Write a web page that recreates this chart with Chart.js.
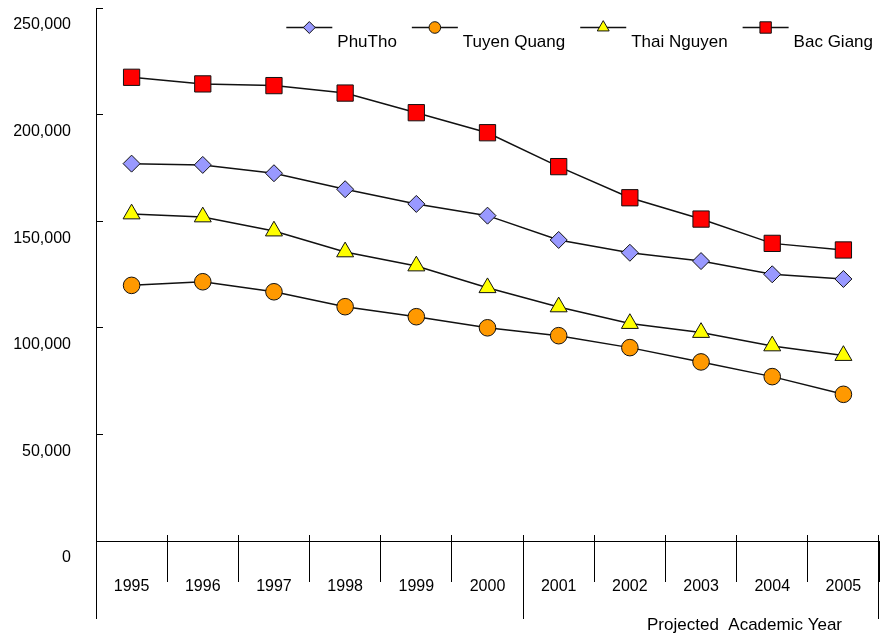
<!DOCTYPE html>
<html>
<head>
<meta charset="utf-8">
<script src="https://cdn.jsdelivr.net/npm/chart.js@4/dist/chart.umd.min.js"></script>
<style>
  html, body { margin: 0; padding: 0; background: #fff; }
  #wrap { width: 880px; height: 639px; }
</style>
</head>
<body>
<div id="wrap"><canvas id="c" width="880" height="639"></canvas></div>
<script>
const years = ['1995','1996','1997','1998','1999','2000','2001','2002','2003','2004','2005'];
const phuTho     = [177000, 176400, 172500, 165000, 158100, 152600, 141200, 135200, 131300, 125100, 122900];
const tuyenQuang = [119900, 121600, 116900, 109900, 105200, 100000,  96300,  90700,  84000,  77100,  68800];
const thaiNguyen = [153400, 152000, 145400, 135600, 129000, 118800, 109800, 102000,  97800,  91500,  87000];
const bacGiang   = [217500, 214400, 213600, 210100, 200900, 191500, 175600, 161000, 151000, 139600, 136500];
const seriesNames = ['PhuTho', 'Tuyen Quang', 'Thai Nguyen', 'Bac Giang'];
const yTicks = [0, 50000, 100000, 150000, 200000, 250000];
const xTitle = 'Projected  Academic Year';
const projectedStart = '2001';

const FONT = '"Liberation Sans", Arial, sans-serif';

function ds(label, data, style, fill, radius) {
  return {
    label, data,
    borderColor: '#111', borderWidth: 1.5,
    pointStyle: style, pointRadius: radius, pointHoverRadius: radius,
    pointBackgroundColor: fill, pointBorderColor: '#111', pointBorderWidth: 1,
    tension: 0, fill: false
  };
}

function zeroPad(s) { s.paddingTop = 0; s.paddingBottom = 0; s.paddingLeft = 0; s.paddingRight = 0; }

const extras = {
  id: 'extras',
  afterDraw(chart) {
    const {ctx, chartArea: ca, scales: {x}} = chart;
    ctx.save();
    ctx.strokeStyle = '#000';
    ctx.lineWidth = 1;
    const n = years.length;
    const p0 = x.getPixelForValue(0), p1 = x.getPixelForValue(1);
    const step = p1 - p0;
    const lowY = x.bottom - 20;
    const longIdx = [0, years.indexOf(projectedStart), n];
    for (let i = 0; i <= n; i++) {
      const bx = Math.floor(p0 - step / 2 + i * step) + 0.5;
      ctx.beginPath();
      ctx.moveTo(bx, ca.bottom - 6);
      ctx.lineTo(bx, ca.bottom);
      if (longIdx.includes(i)) { ctx.lineTo(bx, lowY); }
      ctx.stroke();
    }
    // axis title
    ctx.fillStyle = '#000';
    ctx.font = '17px ' + FONT;
    ctx.textAlign = 'right';
    ctx.textBaseline = 'alphabetic';
    ctx.fillText(xTitle, ca.right - 37, x.bottom - 9);

    // legend: line + marker + label
    const lineLen = 46, gapText = 5, gapItem = 15;
    const items = chart.data.datasets.map(d => ({d, w: ctx.measureText(d.label).width}));
    const total = items.reduce((s, it) => s + lineLen + gapText + it.w, 0) + gapItem * (items.length - 1);
    let lx = ca.right - 6 - total;
    const ly = 27;
    ctx.textAlign = 'left';
    for (const it of items) {
      const d = it.d;
      ctx.beginPath();
      ctx.strokeStyle = d.borderColor;
      ctx.lineWidth = d.borderWidth;
      ctx.moveTo(lx, ly + 0.5);
      ctx.lineTo(lx + lineLen, ly + 0.5);
      ctx.stroke();
      ctx.fillStyle = d.pointBackgroundColor;
      ctx.strokeStyle = d.pointBorderColor;
      ctx.lineWidth = 1;
      Chart.helpers.drawPoint(ctx, {pointStyle: d.pointStyle, radius: d.pointRadius * 0.7, rotation: 0, borderWidth: 1}, lx + lineLen / 2, ly + 0.5);
      ctx.fillStyle = '#000';
      ctx.fillText(d.label, lx + lineLen + gapText, ly + 20);
      lx += lineLen + gapText + it.w + gapItem;
    }
    ctx.restore();
  }
};

new Chart(document.getElementById('c'), {
  type: 'line',
  data: {
    labels: years,
    datasets: [
      ds(seriesNames[0], phuTho, 'rectRot', '#9999FF', 8.5),
      ds(seriesNames[1], tuyenQuang, 'circle', '#FF9900', 8.3),
      ds(seriesNames[2], thaiNguyen, 'triangle', '#FFFF00', 9.8),
      ds(seriesNames[3], bacGiang, 'rect', '#FF0000', 11.5)
    ]
  },
  options: {
    responsive: false,
    animation: false,
    events: [],
    layout: { autoPadding: false, padding: { top: 8, right: 1, bottom: 0, left: 0 } },
    plugins: { legend: { display: false }, tooltip: { enabled: false } },
    scales: {
      x: {
        type: 'category',
        offset: true,
        afterFit(s) { s.height = 98; zeroPad(s); },
        grid: { offset: true, drawOnChartArea: false, drawTicks: true, tickLength: 41, color: '#000', lineWidth: 1 },
        border: { display: true, color: '#000', width: 1 },
        ticks: { color: '#000', font: { family: FONT, size: 16 }, padding: -5, maxRotation: 0, autoSkip: false }
      },
      y: {
        min: 0, max: 250000,
        afterFit(s) { s.width = 96; zeroPad(s); },
        afterBuildTicks(s) { s.ticks = yTicks.map(v => ({value: v})); },
        grid: { drawOnChartArea: false, drawTicks: true, tickLength: -7, color: '#000', lineWidth: 1 },
        border: { display: true, color: '#000', width: 1 },
        ticks: {
          color: '#000', font: { family: FONT, size: 16 }, padding: 32, labelOffset: 17,
          callback: v => Number(v).toLocaleString('en-US')
        }
      }
    }
  },
  plugins: [extras]
});
</script>
</body>
</html>
